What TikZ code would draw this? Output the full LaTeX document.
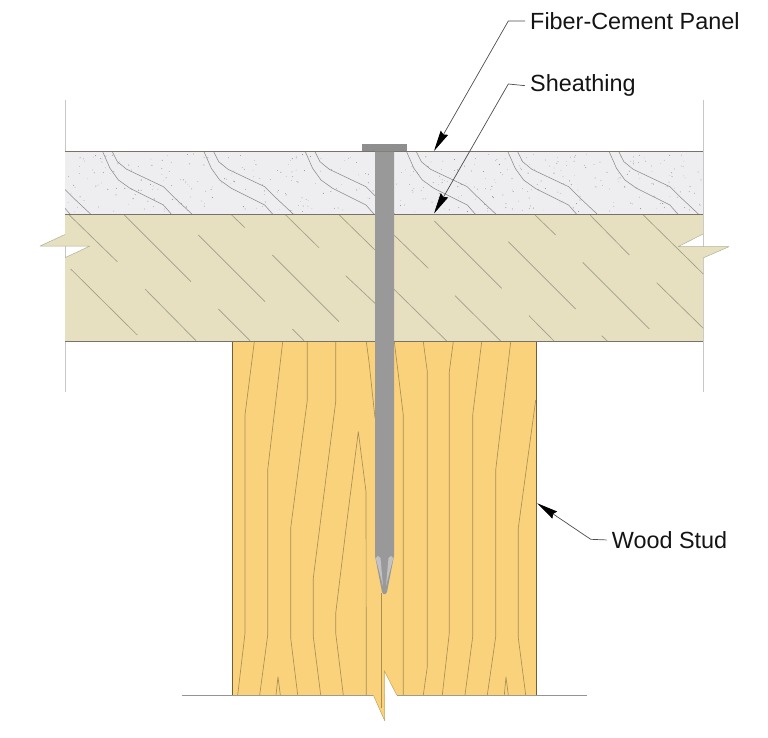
\documentclass[tikz,border=0pt]{standalone}
\usepackage{fontspec}
\setmainfont{Liberation Sans}
\usetikzlibrary{arrows.meta}
\definecolor{studfill}{HTML}{FAD27C}
\definecolor{sheathfill}{HTML}{E6E0C1}
\definecolor{panelfill}{HTML}{EEEEF1}
\definecolor{nailfill}{HTML}{999999}
\definecolor{headfill}{HTML}{8E8E8E}
\definecolor{finfill}{HTML}{C2C2C6}
\definecolor{edgeline}{HTML}{77736A}
\tikzset{
  guide/.style={draw=black!22,line width=0.9pt},
  thinedge/.style={draw=black!42,line width=0.7pt},
  edge/.style={draw=edgeline,line width=1.0pt},
  breakedge/.style={draw=black!22!sheathfill,line width=0.5pt,line join=round},
  studedge/.style={draw=black!55!studfill,line width=1.0pt},
  studbreak/.style={draw=black!22!studfill,line width=0.5pt,line join=round},
  sheathhatch/.style={draw=black!30!sheathfill,line width=0.65pt},
  panelgrain/.style={draw=black!45,line width=0.55pt,line join=round},
  studgrain/.style={draw=black!32!studfill,line width=0.65pt,line join=round},
  leader/.style={draw=black!70,line width=0.7pt,-{Stealth[length=21pt,width=8.5pt,inset=2pt,black]}},
  callout/.style={font=\fontsize{23.4}{26}\selectfont,text=black!92,inner sep=0pt,anchor=base west},
}
\begin{document}
\begin{tikzpicture}[x=1pt,y=-1pt]
\useasboundingbox (0,0) rectangle (768,737);
% outer guides
\draw[guide] (65,100) -- (65,392);
\draw[guide] (703,100) -- (703,392);
% stud
\draw[thinedge] (182.3,695) -- (373.3,695);
\draw[thinedge] (396.7,695) -- (586.7,695);
\fill[studfill] (232.3,341) -- (536.3,341) -- (536.3,695) -- (396.7,695) -- (384.3,670.7) -- (384.7,720.7) -- (373.3,695) -- (232.3,695) -- cycle;
\draw[studbreak] (396.7,695) -- (384.3,670.7) -- (384.7,720.7) -- (373.3,695);
\draw[studedge] (232.3,341) -- (232.3,695);
\draw[studedge] (536.3,341) -- (536.3,695);
% stud grain
\draw[studgrain] (254.3,341.7) -- (245,415) -- (245,633.3) -- (237.7,695);
\draw[studgrain] (282.7,341.7) -- (267.7,470) -- (267.7,635) -- (259.7,695);
\draw[studgrain] (307.3,341.7) -- (307.3,400) -- (290.7,528) -- (290.7,638) -- (297.7,695);
\draw[studgrain] (335.7,341.7) -- (335.7,401.7) -- (313.3,578) -- (313.3,636.7) -- (320.7,695);
\draw[studgrain] (366.3,341.7) -- (369,361.7) -- (375,418);
\draw[studgrain] (343.3,695) -- (335.7,633) -- (335.7,613.3) -- (346.7,523) -- (358.3,431.7) -- (366,491.7) -- (366.3,695);
\draw[studgrain] (276,695) -- (278,676.7) -- (280.3,695);
\draw[studgrain] (381.5,593) -- (381.5,708);
\draw[studgrain] (394.3,341.7) -- (403.3,415) -- (403.3,695);
\draw[studgrain] (423.3,341.7) -- (427.3,371.7) -- (427.3,666.7) -- (423.3,695);
\draw[studgrain] (453.3,341.7) -- (449.3,371.7) -- (449.3,633) -- (442.3,695);
\draw[studgrain] (481.7,341.7) -- (472.7,415) -- (472.7,636.7) -- (465,695);
\draw[studgrain] (510.7,341.7) -- (495.7,470) -- (495.7,636.7) -- (487.3,695);
\draw[studgrain] (535.7,400) -- (518.3,528) -- (518.3,638) -- (525.7,695);
\draw[studgrain] (504.3,695) -- (506,677) -- (508.3,695);
% sheathing
\fill[sheathfill] (65,214.5) -- (65,234.5) -- (40,246) -- (90,246) -- (65,257.7) -- (65,341) -- (703,341) -- (703,258) -- (729,246.7) -- (678,246.7) -- (703,234) -- (703,214.5) -- cycle;
\draw[breakedge] (65,234.5) -- (40,246) -- (90,246) -- (65,257.7);
\draw[breakedge] (703,258) -- (729,246.7) -- (678,246.7) -- (703,234);
\foreach \a/\b/\c/\d in {
 69.3/215/117.3/261.7, 124.3/215/191/281.7, 231.7/215/245/227.7, 285.7/215/319/247.7,
 339.3/215/375/250, 198.3/235/265/301.7, 272.3/255/339/321.7, 345.7/275.7/375/303.3,
 70.7/269/137.3/335, 145/289/196/340.7, 218.3/309/250/340.7, 292.3/329/304/340.7,
 434.3/221/501.7/288.3, 535/215/555.7/235, 590/215/629.3/255, 643.3/215/703.3/274,
 508.3/241.7/575.7/309, 582.7/262.3/649.3/329, 656.7/282.7/703.3/328.3, 394/235/428.3/268.3,
 394/289.3/446.7/341, 455/295.7/500.7/341, 529/315.7/554/341, 601.7/335.7/607.3/341}
 { \draw[sheathhatch] (\a,\b) -- (\c,\d); }
% panel
\fill[panelfill] (65,151.5) rectangle (703,214.5);
\pgfmathsetseed{41}
\foreach \n in {1,...,420} {
  \pgfmathsetmacro\px{67+634*rnd}
  \pgfmathsetmacro\py{154+58*rnd}
  \pgfmathsetmacro\pr{0.25+0.3*rnd}
  \fill[black!45] (\px,\py) circle [radius=\pr];
}
\begin{scope}
\clip (65,151.5) rectangle (703,214.5);
\foreach \k in {-1,0,...,5} {
  \pgfmathsetmacro\xo{102.7+101.3*\k}
  \begin{scope}[xshift=\xo pt]
  \draw[panelgrain] (0,151.7) -- (7.3,168.3) -- (15.7,180) -- (27.3,188.3) -- (60.7,205) -- (69,214.5);
  \draw[panelgrain] (9.7,151.7) -- (14.7,161.7) -- (24,169.3) -- (60.7,186.7) -- (70.7,196.7) -- (89.7,214.5);
  \end{scope}
}
\end{scope}
% horizontal edges
\draw[edge] (65,151.5) -- (703,151.5);
\draw[edge] (65,214.5) -- (703,214.5);
\draw[edge] (65,341) -- (703,341);
% nail
\fill[headfill] (361.7,144.3) rectangle (407.3,151.2);
\fill[nailfill] (375,151.5) -- (375,556) -- (382,592) -- (383.5,594) -- (385.5,594) -- (387,592) -- (394,556) -- (394,151.5) -- cycle;
\fill[finfill] (375.7,558) -- (378,556) -- (380.5,558) -- (383,586) -- cycle;
\fill[finfill] (393.3,558) -- (391,556) -- (388.5,558) -- (386,586) -- cycle;
% callouts
\node[callout] (fc) at (530,29.3) {Fiber-Cement Panel};
\node[callout] (sh) at (530,91.7) {Sheathing};
\node[callout] (ws) at (611.7,548.3) {Wood Stud};
\coordinate (fcbend) at (508.3,21);
\coordinate (fctip) at (434,151);
\coordinate (shbend) at (508.3,84);
\coordinate (shtip) at (434,213.5);
\coordinate (wsbend) at (590.7,539.3);
\coordinate (wstip) at (537.3,503.3);
\draw[leader] ([xshift=-5pt]fc.west) -- (fcbend) -- (fctip);
\draw[leader] ([xshift=-5pt]sh.west) -- (shbend) -- (shtip);
\draw[leader] ([xshift=-5pt]ws.west) -- (wsbend) -- (wstip);
\end{tikzpicture}
\end{document}
